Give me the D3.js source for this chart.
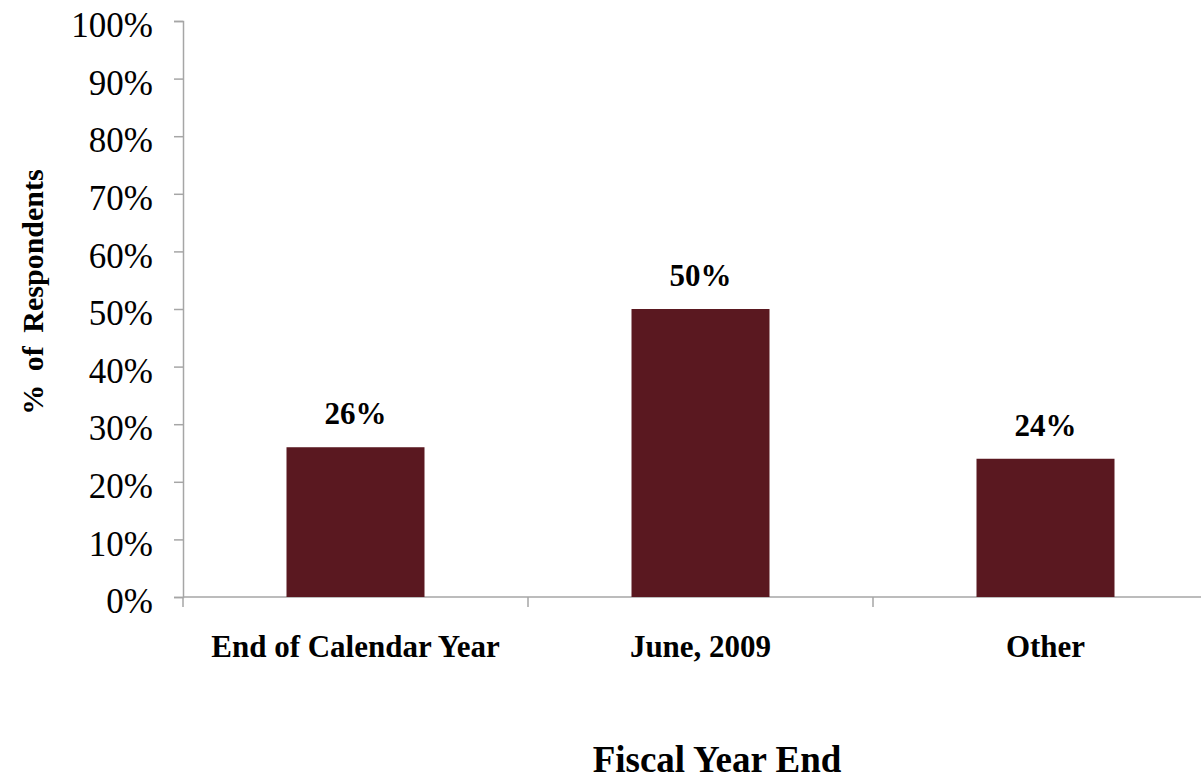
<!DOCTYPE html>
<html>
<head>
<meta charset="utf-8">
<script src="https://cdn.jsdelivr.net/npm/d3@7"></script>
<style>
  html, body { margin: 0; padding: 0; background: #fff; }
  svg { display: block; }
  text { font-family: "Liberation Serif", "Times New Roman", serif; fill: #000; }
</style>
</head>
<body>
<svg id="chart" width="1201" height="780"></svg>
<script>
// data
const categories = ['End of Calendar Year', 'June, 2009', 'Other'];
const values = [0.26, 0.50, 0.24];
const yTicks = [0, 0.1, 0.2, 0.3, 0.4, 0.5, 0.6, 0.7, 0.8, 0.9, 1.0];

const svg = d3.select('#chart');
const axisColor = '#a6a6a6';
const barColor = '#5a1820';

const x = d3.scaleBand()
    .domain(categories)
    .range([183, 1218])
    .paddingInner(0.6)
    .paddingOuter(0.3);

const y = d3.scaleLinear().domain([0, 1]).range([597, 21]);
const fmt = d3.format('.0%');

// y axis
const yAxis = svg.append('g')
    .attr('transform', 'translate(183,0)')
    .call(d3.axisLeft(y).tickValues(yTicks).tickFormat(fmt).tickSize(9).tickPadding(21));
yAxis.select('.domain').attr('stroke', axisColor).attr('stroke-width', 1.5);
yAxis.selectAll('.tick line').attr('stroke', axisColor).attr('stroke-width', 1.5);
yAxis.selectAll('.tick text')
    .attr('dy', '0.45em')
    .style('font-size', '35px')
    .style('font-family', '"Liberation Serif", serif')
    .attr('fill', '#000');

// x axis line + slot boundary ticks
const step = x.step();
const bounds = d3.range(categories.length + 1).map(i => 183 + i * step);
svg.append('line')
    .attr('x1', 183).attr('x2', 1218)
    .attr('y1', y(0)).attr('y2', y(0))
    .attr('stroke', axisColor).attr('stroke-width', 1.5);
svg.selectAll('line.xtick')
    .data(bounds)
    .enter()
    .append('line')
    .attr('class', 'xtick')
    .attr('x1', d => d).attr('x2', d => d)
    .attr('y1', y(0)).attr('y2', y(0) + 10)
    .attr('stroke', axisColor).attr('stroke-width', 1.5);

// bars
svg.selectAll('rect.bar')
    .data(values)
    .enter()
    .append('rect')
    .attr('class', 'bar')
    .attr('x', (d, i) => x(categories[i]))
    .attr('y', d => y(d))
    .attr('width', x.bandwidth())
    .attr('height', d => y(0) - y(d))
    .attr('fill', barColor);

// value labels
svg.selectAll('text.val')
    .data(values)
    .enter()
    .append('text')
    .attr('class', 'val')
    .attr('x', (d, i) => x(categories[i]) + x.bandwidth() / 2)
    .attr('y', d => y(d) - 23)
    .attr('text-anchor', 'middle')
    .style('font-size', '31px')
    .style('font-weight', 'bold')
    .text(d => fmt(d));

// category labels
svg.selectAll('text.cat')
    .data(categories)
    .enter()
    .append('text')
    .attr('class', 'cat')
    .attr('x', d => x(d) + x.bandwidth() / 2)
    .attr('y', 657)
    .attr('text-anchor', 'middle')
    .style('font-size', '31px')
    .style('font-weight', 'bold')
    .text(d => d);

// axis titles
svg.append('text')
    .attr('x', 717)
    .attr('y', 772)
    .attr('text-anchor', 'middle')
    .style('font-size', '37px')
    .style('font-weight', 'bold')
    .text('Fiscal Year End');

svg.append('text')
    .attr('transform', 'translate(43,292) rotate(-90)')
    .attr('text-anchor', 'middle')
    .style('font-size', '30px')
    .style('font-weight', 'bold')
    .style('word-spacing', '6px')
    .text('% of Respondents');
</script>
</body>
</html>
